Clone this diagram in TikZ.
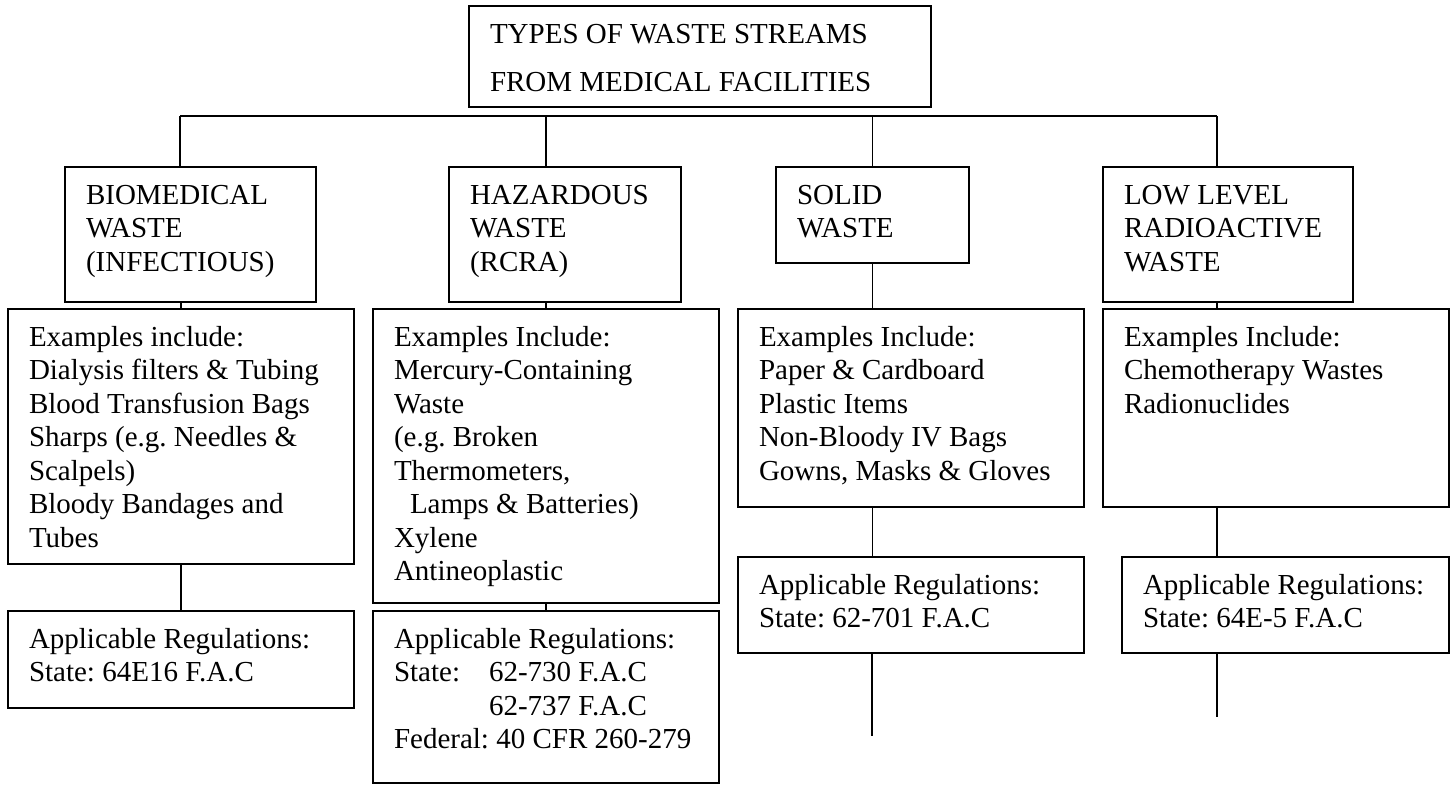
\documentclass[tikz,border=0pt]{standalone}
\usepackage{fontspec}
\setmainfont{Liberation Serif}
\newcommand{\wtext}[3]{\parbox[t][#2][t]{#1}{\raggedright\frenchspacing\rule{0pt}{18.5pt}#3}}
\tikzset{
    wbox/.style={
        draw,
        line width=1pt,
        anchor=north west,
        inner xsep=10.5pt,
        inner ysep=0pt,
        font=\fontsize{14.5pt}{16.75pt}\selectfont
    },
    wline/.style={line width=0.9pt}
}

\begin{document}
\begin{tikzpicture}[x=0.5pt, y=-0.5pt]
\useasboundingbox (0,0) rectangle (1453,784);
\node[wbox] (title) at (468,5)   {\wtext{210pt}{50.5pt}{TYPES OF WASTE STREAMS\\[7.25pt]FROM MEDICAL FACILITIES}};
\node[wbox] (bio)   at (64,166)  {\wtext{104.5pt}{67.5pt}{BIOMEDICAL\\WASTE\\(INFECTIOUS)}};
\node[wbox] (haz)   at (448,166) {\wtext{95pt}{67.5pt}{HAZARDOUS\\WASTE\\(RCRA)}};
\node[wbox] (sol)   at (775,166) {\wtext{75.5pt}{48pt}{SOLID\\WASTE}};
\node[wbox] (rad)   at (1102,166){\wtext{104pt}{67.5pt}{LOW LEVEL\\RADIOACTIVE\\WASTE}};
\node[wbox] (bioex) at (7,308)   {\wtext{152pt}{127.5pt}{Examples include:\\Dialysis filters \& Tubing\\Blood Transfusion Bags\\Sharps (e.g. Needles \&\\Scalpels)\\Bloody Bandages and\\Tubes}};
\node[wbox] (hazex) at (372,308) {\wtext{152pt}{147pt}{Examples Include:\\Mercury-Containing\\Waste\\(e.g. Broken\\Thermometers,\\\hspace*{8pt}Lamps \& Batteries)\\Xylene\\Antineoplastic}};
\node[wbox] (solex) at (737,308) {\wtext{152pt}{99pt}{Examples Include:\\Paper \& Cardboard\\Plastic Items\\Non-Bloody IV Bags\\Gowns, Masks \& Gloves}};
\node[wbox] (radex) at (1102,308){\wtext{152pt}{99pt}{Examples Include:\\Chemotherapy Wastes\\Radionuclides}};
\node[wbox] (bioreg) at (7,610)   {\wtext{152pt}{48.5pt}{Applicable Regulations:\\State: 64E16 F.A.C}};
\node[wbox] (hazreg) at (372,610) {\wtext{152pt}{86pt}{Applicable Regulations:\\\makebox[47.5pt][l]{State:}62-730 F.A.C\\\hspace*{47.5pt}62-737 F.A.C\\Federal: 40 CFR 260-279}};
\node[wbox] (solreg) at (737,556) {\wtext{152pt}{48pt}{Applicable Regulations:\\State: 62-701 F.A.C}};
\node[wbox] (radreg) at (1121,556){\wtext{142.5pt}{48pt}{Applicable Regulations:\\State: 64E-5 F.A.C}};

\coordinate (busL)   at (180,116);
\coordinate (busR)   at (1217,116);
\coordinate (solend) at (872,736);
\coordinate (radend) at (1217,717);

\draw[wline] (busL) -- (busR);
\draw[wline] (busL) -- (busL |- bio.north);
\draw[wline] (hazex.north |- busL) -- (hazex.north |- haz.north);
\draw[wline] (sol.north |- busL) -- (sol.north);
\draw[wline] (busR) -- (busR |- rad.north);

\draw[wline] (bioex.north |- bio.south) -- (bioex.north);
\draw[wline] (hazex.north |- haz.south) -- (hazex.north);
\draw[wline] (sol.south) -- (sol.south |- solex.north);
\draw[wline] (busR |- rad.south) -- (busR |- radex.north);

\draw[wline] (bioex.south) -- (bioex.south |- bioreg.north);
\draw[wline] (hazex.south) -- (hazex.south |- hazreg.north);
\draw[wline] (sol.south |- solex.south) -- (sol.south |- solreg.north);
\draw[wline] (busR |- radex.south) -- (busR |- radreg.north);

\draw[wline] (solreg.south -| solend) -- (solend);
\draw[wline] (radreg.south -| radend) -- (radend);
\end{tikzpicture}
\end{document}
